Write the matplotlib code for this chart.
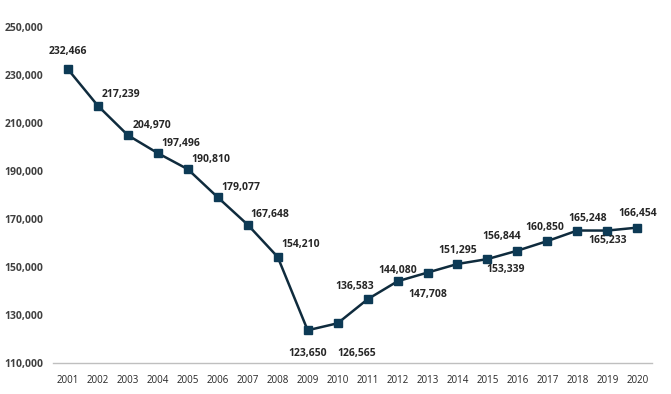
import matplotlib.pyplot as plt

years = [str(y) for y in range(2001, 2021)]
values = [232466, 217239, 204970, 197496, 190810, 179077, 167648, 154210,
          123650, 126565, 136583, 144080, 147708, 151295, 153339, 156844,
          160850, 165248, 165233, 166454]
# label offsets in pixels (dx, dy) relative to each marker
offsets = [(0, 18), (23, 11), (24, 10), (23, 10), (23, 10), (23, 10), (22, 10), (23, 12),
           (0, -23), (19, -30), (-13, 13), (0, 11), (0, -22), (0, 13), (18, -10), (-16, 14),
           (-3, 14), (10, 12), (0, -10), (0, 14)]

plt.rcParams['font.family'] = ['Open Sans', 'DejaVu Sans']

fig = plt.figure(figsize=(6.71, 3.94), dpi=100)
ax = fig.add_axes([0.079, 0.0787, 0.893, 0.852])

x = list(range(len(years)))
ax.plot(x, values, color='#0f2b3d', linewidth=1.8, marker='s', markersize=5.5,
        markerfacecolor='#0d3a55', markeredgecolor='#0d3a55')

for xi, v, (dx, dy) in zip(x, values, offsets):
    ax.annotate(f'{v:,}', (xi, v), xytext=(dx * 0.72, dy * 0.72), textcoords='offset points',
                ha='center', va='center', fontsize=7.5, fontweight='bold', color='#262626')

ax.set_xlim(-0.5, len(years) - 0.5)
ax.set_ylim(110000, 250000)
ax.set_yticks(range(110000, 250001, 20000))
ax.set_yticklabels([f'{t:,}' for t in range(110000, 250001, 20000)],
                   fontsize=7.5, fontweight='bold', color='#404040')
ax.set_xticks(x)
ax.set_xticklabels(years, fontsize=7, color='#262626')
ax.tick_params(length=0)
ax.tick_params(axis='x', pad=9)
ax.tick_params(axis='y', pad=7)
for s in ['top', 'right', 'left']:
    ax.spines[s].set_visible(False)
ax.spines['bottom'].set_color('#bfbfbf')
ax.spines['bottom'].set_linewidth(1)

fig.savefig('out.png', dpi=100)
